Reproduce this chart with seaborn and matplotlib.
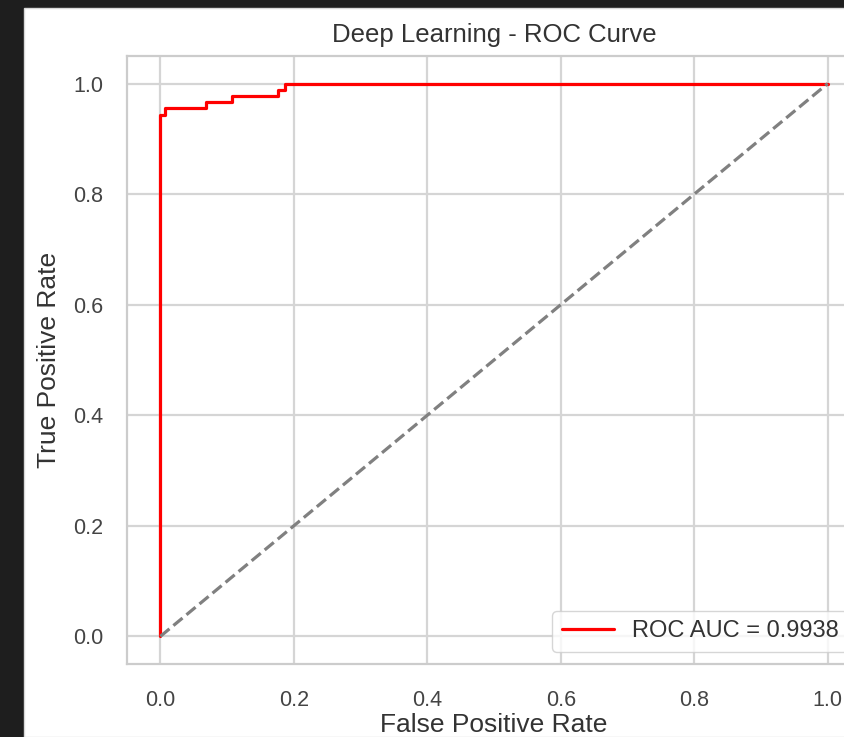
import matplotlib
matplotlib.use("Agg")
import matplotlib.pyplot as plt
import seaborn as sns
import pandas as pd
from matplotlib.patches import Rectangle

# ---- data ----
fpr = [0.0, 0.0, 0.0075, 0.0075, 0.069, 0.069, 0.108, 0.108, 0.177, 0.177, 0.187, 0.187, 1.0]
tpr = [0.0, 0.944, 0.944, 0.956, 0.956, 0.967, 0.967, 0.978, 0.978, 0.989, 0.989, 1.0, 1.0]
diag_x = [0.0, 1.0]
diag_y = [0.0, 1.0]
roc_auc = 0.9938
ticks = [0.0, 0.2, 0.4, 0.6, 0.8, 1.0]

sns.set_theme(style="whitegrid")
plt.rcParams["font.family"] = ["Liberation Sans", "DejaVu Sans"]

W, H = 845, 737
fig = plt.figure(figsize=(W / 100, H / 100), dpi=100)
fig.patch.set_facecolor("#1e1e1e")
fig.add_artist(Rectangle((24 / W, 0), 1 - 24 / W, (H - 8) / H, transform=fig.transFigure,
                         facecolor="white", edgecolor="#d8d8d8", linewidth=1, zorder=0))

left, right, top, bottom = 127, 861, 56, 664
ax = fig.add_axes([left / W, (H - bottom) / H, (right - left) / W, (bottom - top) / H])

roc_df = pd.DataFrame({"fpr": fpr, "tpr": tpr})
sns.lineplot(data=roc_df, x="fpr", y="tpr", estimator=None, sort=False, color="red",
             linewidth=2.3, label=f"ROC AUC = {roc_auc:.4f}", ax=ax)
sns.lineplot(x=diag_x, y=diag_y, estimator=None, sort=False, color="gray",
             linestyle="--", linewidth=2.3, legend=False, ax=ax)

ax.set_xlim(-0.05, 1.05)
ax.set_ylim(-0.05, 1.05)
ax.set_xticks(ticks)
ax.set_yticks(ticks)
ax.set_xticklabels([f"{t:.1f}" for t in ticks])
ax.set_yticklabels([f"{t:.1f}" for t in ticks])
ax.tick_params(axis="both", labelsize=15.5, colors="#444444")
ax.tick_params(axis="x", pad=13)
ax.tick_params(axis="y", pad=11)
ax.grid(True, color="#d5d5d5", linewidth=1.6)
for s in ax.spines.values():
    s.set_color("#cccccc")
    s.set_linewidth(1.6)

ax.set_xlabel("False Positive Rate", fontsize=19, color="#333333", labelpad=1)
ax.set_ylabel("True Positive Rate", fontsize=19, color="#333333", labelpad=9)
ax.set_title("Deep Learning - ROC Curve", fontsize=18.5, color="#333333", pad=10)

leg = ax.legend(loc="lower right", bbox_to_anchor=(0.982, 0.02), borderaxespad=0,
                fontsize=17, handlelength=2.2, handletextpad=0.75, frameon=True,
                fancybox=True)
leg.get_frame().set_edgecolor("#cccccc")
for t in leg.get_texts():
    t.set_color("#333333")

fig.savefig("out.png", dpi=100, facecolor=fig.get_facecolor())
